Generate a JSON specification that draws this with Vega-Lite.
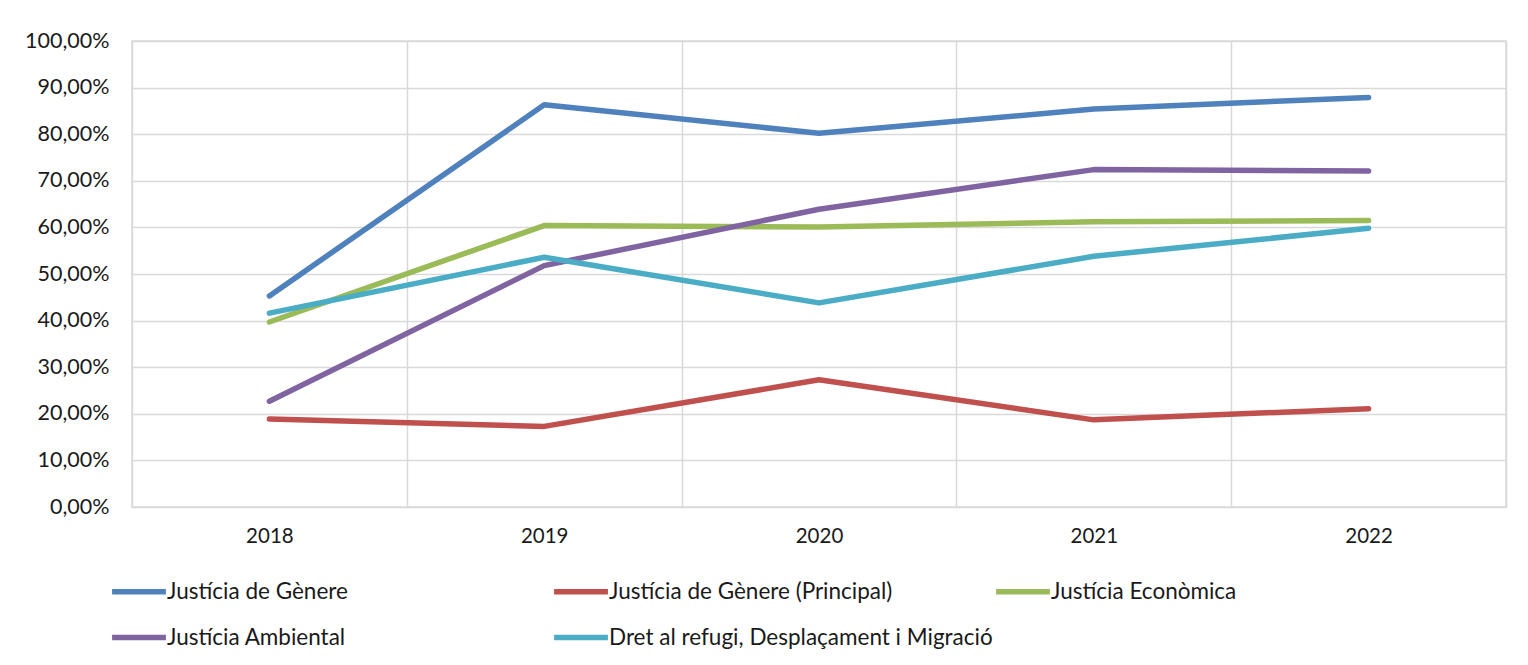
{
  "$schema": "https://vega.github.io/schema/vega-lite/v6.json",
  "autosize": "none",
  "width": 1374,
  "height": 466,
  "padding": {"left": 132, "top": 41, "right": 22, "bottom": 158},
  "background": "white",
  "config": {
    "font": "Lato",
    "view": {"stroke": "#d9d9d9", "strokeWidth": 1.5},
    "axis": {"labelFont": "Lato", "labelColor": "#1a1a1a", "gridColor": "#d9d9d9", "gridWidth": 1.5, "domain": false, "ticks": false, "title": null},
    "legend": {"labelFont": "Lato", "labelColor": "#1a1a1a", "labelFontSize": 22.5}
  },
  "data": {
    "values": [
      {"any": "2018", "serie": "Justícia de Gènere", "valor": 0.453},
      {"any": "2019", "serie": "Justícia de Gènere", "valor": 0.863},
      {"any": "2020", "serie": "Justícia de Gènere", "valor": 0.802},
      {"any": "2021", "serie": "Justícia de Gènere", "valor": 0.854},
      {"any": "2022", "serie": "Justícia de Gènere", "valor": 0.879},
      {"any": "2018", "serie": "Justícia de Gènere (Principal)", "valor": 0.189},
      {"any": "2019", "serie": "Justícia de Gènere (Principal)", "valor": 0.173},
      {"any": "2020", "serie": "Justícia de Gènere (Principal)", "valor": 0.273},
      {"any": "2021", "serie": "Justícia de Gènere (Principal)", "valor": 0.187},
      {"any": "2022", "serie": "Justícia de Gènere (Principal)", "valor": 0.211},
      {"any": "2018", "serie": "Justícia Econòmica", "valor": 0.397},
      {"any": "2019", "serie": "Justícia Econòmica", "valor": 0.604},
      {"any": "2020", "serie": "Justícia Econòmica", "valor": 0.601},
      {"any": "2021", "serie": "Justícia Econòmica", "valor": 0.612},
      {"any": "2022", "serie": "Justícia Econòmica", "valor": 0.615},
      {"any": "2018", "serie": "Justícia Ambiental", "valor": 0.227},
      {"any": "2019", "serie": "Justícia Ambiental", "valor": 0.518},
      {"any": "2020", "serie": "Justícia Ambiental", "valor": 0.639},
      {"any": "2021", "serie": "Justícia Ambiental", "valor": 0.724},
      {"any": "2022", "serie": "Justícia Ambiental", "valor": 0.721},
      {"any": "2018", "serie": "Dret al refugi, Desplaçament i Migració", "valor": 0.416},
      {"any": "2019", "serie": "Dret al refugi, Desplaçament i Migració", "valor": 0.536},
      {"any": "2020", "serie": "Dret al refugi, Desplaçament i Migració", "valor": 0.438},
      {"any": "2021", "serie": "Dret al refugi, Desplaçament i Migració", "valor": 0.538},
      {"any": "2022", "serie": "Dret al refugi, Desplaçament i Migració", "valor": 0.598}
    ]
  },
  "mark": {"type": "line", "strokeWidth": 5.5, "strokeCap": "round", "strokeJoin": "round"},
  "encoding": {
    "x": {
      "field": "any", "type": "ordinal",
      "scale": {"type": "band", "paddingInner": 0, "paddingOuter": 0},
      "axis": {"labelAngle": 0, "grid": true, "tickBand": "extent", "labelPadding": 19, "labelFontSize": 20.5}
    },
    "y": {
      "field": "valor", "type": "quantitative",
      "scale": {"domain": [0, 1]},
      "axis": {"values": [0, 0.1, 0.2, 0.3, 0.4, 0.5, 0.6, 0.7, 0.8, 0.9, 1], "labelExpr": "replace(format(datum.value, '.2%'), '.', ',')", "labelPadding": 23, "labelFontSize": 21.5, "grid": true}
    },
    "color": {
      "field": "serie", "type": "nominal",
      "scale": {
        "domain": ["Justícia de Gènere", "Justícia de Gènere (Principal)", "Justícia Econòmica", "Justícia Ambiental", "Dret al refugi, Desplaçament i Migració"],
        "range": ["#4f81bd", "#c0504d", "#9bbb59", "#8064a2", "#4bacc6"]
      },
      "legend": {
        "title": null, "orient": "none", "legendX": -23, "legendY": 520.5, "direction": "horizontal",
        "columns": 3, "gridAlign": "all", "columnPadding": -10, "rowPadding": 4, "labelLimit": 600,
        "symbolType": "stroke", "symbolSize": 2900, "symbolStrokeWidth": 5.5, "labelOffset": -2, "padding": 0
      }
    }
  }
}
